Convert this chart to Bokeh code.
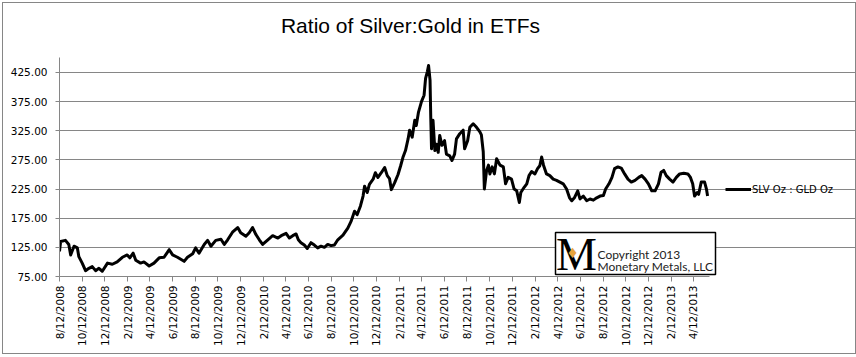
import math
import pandas as pd
from bokeh.plotting import figure
from bokeh.models import (Range1d, FixedTicker, NumeralTickFormatter, Label,
                          BoxAnnotation, Legend, LegendItem, ColumnDataSource)
from bokeh.embed import file_html
from bokeh.resources import INLINE

title_text = "Ratio of Silver:Gold in ETFs"
series_name = "SLV Oz : GLD Oz"
logo_lines = ["Copyright 2013", "Monetary Metals, LLC"]

dates = [
    # 2008
    "2008-08-12", "2008-08-15", "2008-08-28", "2008-09-06", "2008-09-11", "2008-09-20",
    "2008-09-29", "2008-10-03", "2008-10-12", "2008-10-21", "2008-10-30", "2008-11-08",
    "2008-11-17", "2008-11-26", "2008-12-05", "2008-12-19",
    # 2009
    "2009-01-01", "2009-01-14", "2009-01-28", "2009-02-10", "2009-02-17", "2009-02-26",
    "2009-03-05", "2009-03-18", "2009-03-27", "2009-04-10", "2009-04-23", "2009-05-07",
    "2009-05-20", "2009-06-03", "2009-06-12", "2009-06-25", "2009-07-13", "2009-07-22",
    "2009-08-05", "2009-08-13", "2009-08-22", "2009-09-05", "2009-09-14", "2009-09-23",
    "2009-10-06", "2009-10-20", "2009-10-29", "2009-11-07", "2009-11-20", "2009-12-04",
    "2009-12-12", "2009-12-26",
    # 2010
    "2010-01-04", "2010-01-13", "2010-01-22", "2010-01-31", "2010-02-09", "2010-02-23",
    "2010-03-08", "2010-03-22", "2010-03-31", "2010-04-13", "2010-04-22", "2010-05-01",
    "2010-05-10", "2010-05-16", "2010-05-23", "2010-06-01", "2010-06-09", "2010-06-19",
    "2010-06-28", "2010-07-07", "2010-07-16", "2010-07-25", "2010-08-03", "2010-08-12",
    "2010-08-21", "2010-08-30", "2010-09-13", "2010-09-26", "2010-10-05", "2010-10-14",
    "2010-10-21", "2010-10-30", "2010-11-06", "2010-11-10", "2010-11-17", "2010-11-23",
    "2010-12-03", "2010-12-09", "2010-12-16", "2010-12-25",
    # 2011
    "2011-01-03", "2011-01-10", "2011-01-16", "2011-01-21", "2011-01-30", "2011-02-08",
    "2011-02-15", "2011-02-21", "2011-02-28", "2011-03-07", "2011-03-11", "2011-03-18",
    "2011-03-25", "2011-03-29", "2011-04-04", "2011-04-12", "2011-04-19", "2011-04-23",
    "2011-04-28", "2011-05-01", "2011-05-05", "2011-05-07", "2011-05-09", "2011-05-13",
    "2011-05-18", "2011-05-22", "2011-05-27", "2011-05-31", "2011-06-06", "2011-06-13",
    "2011-06-18", "2011-06-27", "2011-07-03", "2011-07-10", "2011-07-15", "2011-07-24",
    "2011-08-02", "2011-08-06", "2011-08-14", "2011-08-20", "2011-08-29", "2011-09-07",
    "2011-09-16", "2011-09-20", "2011-09-25", "2011-09-28", "2011-10-04", "2011-10-09",
    "2011-10-13", "2011-10-19", "2011-10-25", "2011-10-31", "2011-11-09", "2011-11-18",
    "2011-11-24", "2011-12-01", "2011-12-10", "2011-12-17", "2011-12-24", "2011-12-31",
    # 2012
    "2012-01-04", "2012-01-13", "2012-01-20", "2012-01-26", "2012-02-02", "2012-02-11",
    "2012-02-18", "2012-02-24", "2012-02-29", "2012-03-05", "2012-03-13", "2012-03-22",
    "2012-03-31", "2012-04-09", "2012-04-18", "2012-04-27", "2012-05-06", "2012-05-14",
    "2012-05-20", "2012-05-27", "2012-06-05", "2012-06-11", "2012-06-20", "2012-06-29",
    "2012-07-08", "2012-07-17", "2012-07-26", "2012-08-04", "2012-08-13", "2012-08-19",
    "2012-08-28", "2012-09-05", "2012-09-12", "2012-09-21", "2012-09-30", "2012-10-09",
    "2012-10-18", "2012-10-27", "2012-11-06", "2012-11-16", "2012-11-24", "2012-12-03",
    "2012-12-12", "2012-12-21", "2012-12-30",
    # 2013
    "2013-01-08", "2013-01-15", "2013-01-22", "2013-01-29", "2013-02-07", "2013-02-16",
    "2013-02-25", "2013-03-06", "2013-03-17", "2013-03-28", "2013-04-04", "2013-04-10",
    "2013-04-15", "2013-04-22", "2013-04-26", "2013-05-03", "2013-05-12", "2013-05-17",
    "2013-05-20",
]

ratio = [
    # 2008
    118, 135, 137, 130, 112, 127,
    124, 109, 98, 85, 89, 92,
    85, 89, 84, 98,
    # 2009
    96, 100, 108, 112, 107, 115,
    103, 98, 100, 93, 98, 107,
    108, 121, 112, 108, 101, 108,
    114, 124, 115, 130, 137, 127,
    137, 139, 130, 138, 151, 159,
    150, 144,
    # 2010
    150, 159, 147, 138, 130, 138,
    145, 141, 145, 149, 141, 145,
    148, 138, 133, 129, 123, 133,
    129, 124, 127, 125, 130, 128,
    129, 138, 146, 158, 170, 187,
    181, 196, 213, 230, 219, 233,
    242, 253, 245, 253,
    # 2011
    262, 248, 243, 224, 236, 250,
    265, 279, 291, 311, 326, 314,
    343, 334, 357, 375, 386, 415,
    427, 437, 412, 346, 294, 343,
    291, 302, 288, 317, 300, 308,
    285, 282, 274, 285, 311, 320,
    326, 294, 308, 331, 337, 331,
    323, 318, 289, 225, 257, 266,
    251, 263, 251, 277, 266, 263,
    234, 245, 242, 225, 222, 202,
    # 2012
    219, 228, 234, 248, 255, 251,
    260, 265, 280, 266, 251, 248,
    242, 240, 237, 234, 225, 210,
    205, 210, 222, 208, 213, 205,
    208, 206, 210, 213, 214, 225,
    234, 245, 260, 263, 261, 251,
    242, 237, 240, 245, 248, 242,
    234, 222, 222,
    # 2013
    234, 254, 257, 248, 242, 237,
    245, 251, 252, 251, 245, 234,
    213, 219, 216, 237, 237, 225,
    213,
]

tick_labels = [
    "8/12/2008", "10/12/2008", "12/12/2008", "2/12/2009", "4/12/2009", "6/12/2009",
    "8/12/2009", "10/12/2009", "12/12/2009", "2/12/2010", "4/12/2010", "6/12/2010",
    "8/12/2010", "10/12/2010", "12/12/2010", "2/12/2011", "4/12/2011", "6/12/2011",
    "8/12/2011", "10/12/2011", "12/12/2011", "2/12/2012", "4/12/2012", "6/12/2012",
    "8/12/2012", "10/12/2012", "12/12/2012", "2/12/2013", "4/12/2013",
]
y_ticks = [75, 125, 175, 225, 275, 325, 375, 425]

origin = pd.Timestamp("2008-08-12")
x_days = [int((pd.Timestamp(d) - origin).days) for d in dates]
tick_days = [int((pd.to_datetime(t, format="%m/%d/%Y") - origin).days) for t in tick_labels]

GRID = "#868686"
TICK_FONT = "DejaVu Sans"

# plot area (axes, grid) spans x 0..1746 days and y 75..450; the frame itself is
# extended to the right/top so that title, legend and logo can sit inside it.
X_AXIS_END = 1746
Y_AXIS_END = 450

p = figure(width=852, height=350, output_backend="svg", toolbar_location=None,
           x_range=Range1d(0, 2145), y_range=Range1d(75, 543.3),
           min_border_left=56, min_border_right=0, min_border_top=0, min_border_bottom=79)
p.title.visible = False
p.margin = (2, 0, 0, 2)
p.styles = {"border": "1px solid #868686", "box-sizing": "content-box"}
p.outline_line_color = None
p.background_fill_color = "white"
p.border_fill_color = "white"

src = ColumnDataSource(dict(x=x_days, y=ratio))
r = p.line("x", "y", source=src, line_color="black", line_width=3, line_join="round")

# axes
p.xaxis.ticker = FixedTicker(ticks=tick_days)
p.xaxis.major_label_overrides = {d: t for d, t in zip(tick_days, tick_labels)}
p.xaxis.major_label_orientation = math.pi / 2
p.xaxis.bounds = (0, X_AXIS_END)
p.yaxis.ticker = FixedTicker(ticks=y_ticks)
p.yaxis.formatter = NumeralTickFormatter(format="0.00")
p.yaxis.bounds = (75, Y_AXIS_END)
for ax in (p.xaxis[0], p.yaxis[0]):
    ax.axis_line_color = GRID
    ax.major_tick_line_color = GRID
    ax.minor_tick_line_color = None
    ax.major_tick_in = 0
    ax.major_label_text_font = TICK_FONT
    ax.major_label_text_font_size = "10.5px"
    ax.major_label_text_color = "black"
p.xaxis.major_tick_out = 5
p.xaxis.major_label_standoff = 4
p.yaxis.major_tick_out = 4
p.yaxis.major_label_standoff = 8

p.xgrid.visible = False
p.ygrid.ticker = FixedTicker(ticks=y_ticks)
p.ygrid.bounds = (0, X_AXIS_END)
p.ygrid.grid_line_color = GRID
p.ygrid.grid_line_width = 1

# title
p.add_layout(Label(x=351, y=251, x_units="screen", y_units="screen", text=title_text,
                   text_font="Liberation Sans", text_font_size="21px",
                   text_align="center", text_baseline="middle", text_color="black"))

# legend
legend = Legend(items=[LegendItem(label=series_name, renderers=[r])], location=(666, 81),
                padding=0, margin=0, spacing=0, border_line_color=None,
                background_fill_alpha=0, glyph_width=26, glyph_height=12,
                label_height=12, label_standoff=1, label_text_font=TICK_FONT,
                label_text_font_size="10px", label_text_color="black")
p.add_layout(legend)

# logo box
p.add_layout(BoxAnnotation(left=496, right=656, top=44, bottom=2,
                           left_units="screen", right_units="screen",
                           top_units="screen", bottom_units="screen",
                           fill_color="white", fill_alpha=1,
                           line_color="black", line_alpha=1, line_width=1.5))
p.add_layout(Label(x=496.5, y=22, x_units="screen", y_units="screen", text="M",
                   text_font="Liberation Serif", text_font_size="46px",
                   text_align="left", text_baseline="middle", text_color="black"))
p.add_layout(Label(x=513, y=24, x_units="screen", y_units="screen", text="\u2666",
                   text_font="DejaVu Sans", text_font_size="14px",
                   text_align="center", text_baseline="middle", text_color="#E8A33C"))
p.add_layout(Label(x=538, y=22.5, x_units="screen", y_units="screen", text=logo_lines[0],
                   text_font="Lato", text_font_size="12px",
                   text_align="left", text_baseline="middle", text_color="#222222"))
p.add_layout(Label(x=538, y=10.5, x_units="screen", y_units="screen", text=logo_lines[1],
                   text_font="Lato", text_font_size="12px",
                   text_align="left", text_baseline="middle", text_color="#222222"))

open("out.html", "w").write(file_html(p, INLINE))
